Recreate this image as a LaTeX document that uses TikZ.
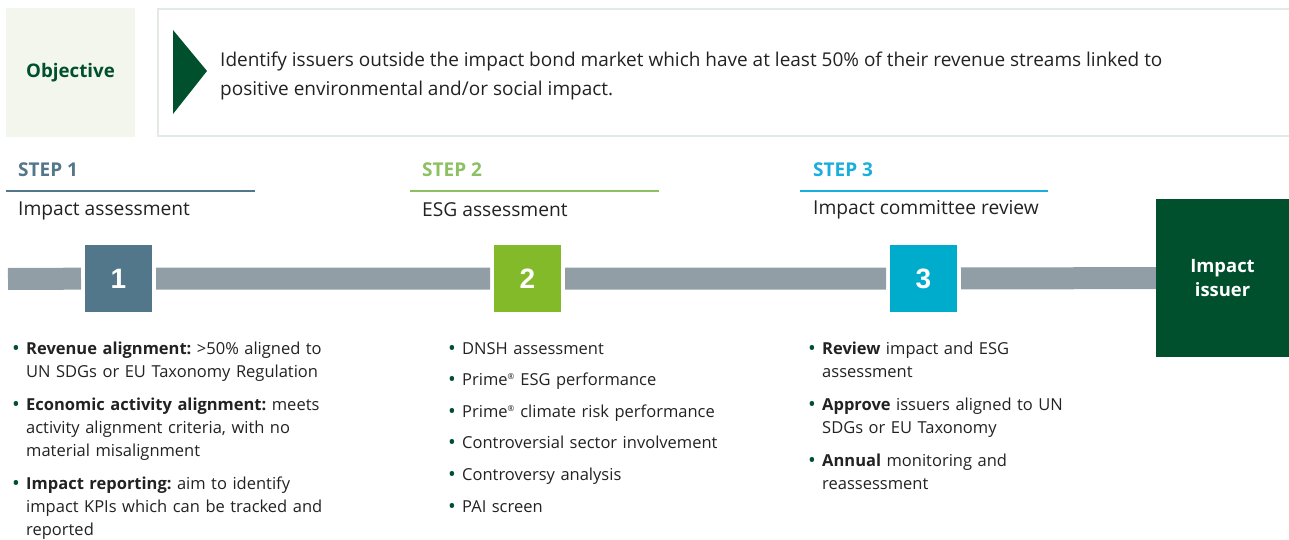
\documentclass[tikz,border=0pt]{standalone}
\usepackage{fontspec}
\setmainfont{Open Sans}
\newfontfamily\numfont{Liberation Sans}
\usetikzlibrary{positioning}

\definecolor{objfill}{HTML}{F3F6EC}
\definecolor{objline}{HTML}{E3EAE3}
\definecolor{darkgreen}{HTML}{00502E}
\definecolor{textgray}{HTML}{222222}
\definecolor{bargray}{HTML}{919EA5}
\definecolor{slate}{HTML}{52768A}
\definecolor{lime}{HTML}{82BA2A}
\definecolor{limetext}{HTML}{8CC063}
\definecolor{cyan}{HTML}{00ACCB}
\definecolor{cyantext}{HTML}{1AAEDC}

\tikzset{
  stepbox/.style={minimum width=67pt, minimum height=67pt, inner sep=0pt, outer sep=4pt,
    text=white, font=\numfont\bfseries\fontsize{28}{28}\selectfont},
  bar/.style={line width=22pt, draw=bargray},
  steptitle/.style={anchor=west, inner sep=0pt, font=\bfseries\fontsize{19}{19}\selectfont},
  stepname/.style={anchor=west, inner sep=0pt, text=textgray, font=\fontsize{19.2}{19.2}\selectfont},
  bullets/.style={anchor=north west, inner sep=0pt, text width=360pt, align=left,
    text=textgray, font=\frenchspacing\fontsize{16.5}{23}\selectfont},
}
\newcommand{\bul}{\hangindent=14pt\hangafter=1\noindent\makebox[14pt][l]{\textcolor{darkgreen}{\raisebox{-0.1ex}{\scalebox{1.25}{•}}}}}
\newcommand{\gap}{\par\vspace{10pt}}
\newcommand{\reg}{\textsuperscript{\scalebox{0.7}{®}}}

\begin{document}
\begin{tikzpicture}[x=1pt,y=-1pt]
  \useasboundingbox (0,0) rectangle (1289,540);

  % objective
  \node[fill=objfill, minimum width=129pt, minimum height=129pt, inner sep=0pt,
    text=darkgreen, font=\bfseries\fontsize{18.7}{18.7}\selectfont] (obj) at (70.5,72.5) {Objective};
  \draw[objline, line width=2pt] (1300,9) -- (158,9) -- (158,136) -- (1300,136);
  \fill[darkgreen] (173,30) -- (207,71) -- (173,114) -- cycle;
  \node[anchor=west, inner sep=0pt, align=left, text=textgray,
    font=\fontsize{19}{28.5}\selectfont] (objtext) at (220,76)
    {Identify issuers outside the impact bond market which have at least 50\% of their revenue streams linked to\\
     positive environmental and/or social impact.};

  % steps
  \node[steptitle, text=slate] (t1) at (18,170) {STEP 1};
  \node[steptitle, text=limetext] (t2) at (422,170) {STEP 2};
  \node[steptitle, text=cyantext] (t3) at (813,170) {STEP 3};
  \draw[slate, line width=2pt] (6,191) -- (255,191);
  \draw[limetext, line width=2pt] (410,191) -- (659,191);
  \draw[cyantext, line width=2pt] (800,191) -- (1048,191);
  \node[stepname] (n1) at (18,211) {Impact assessment};
  \node[stepname] (n2) at (422,210) {ESG assessment};
  \node[stepname] (n3) at (813,210) {Impact committee review};

  % bar
  \coordinate (start) at (8,279);
  \node[stepbox, fill=slate] (s1) at (118.5,278.5) {1};
  \node[stepbox, fill=lime] (s2) at (527.5,278.5) {2};
  \node[stepbox, fill=cyan] (s3) at (923.5,278.5) {3};
  \node[fill=darkgreen, minimum width=133pt, minimum height=158pt, inner sep=0pt, align=center,
    text=white, font=\bfseries\fontsize{18.4}{24}\selectfont] (issuer) at (1222.5,278) {Impact\\issuer};
  \draw[bar] (start) -- (s1) (s1) -- (s2) (s2) -- (s3) (s3) -- (issuer);

  % bullets
  \node[bullets] (b1) at (12,342) {\bul\textbf{Revenue alignment:} >50\% aligned to\newline UN SDGs or EU Taxonomy Regulation
    \gap\bul\textbf{Economic activity alignment:} meets\newline activity alignment criteria, with no\newline material misalignment
    \gap\bul\textbf{Impact reporting:} aim to identify\newline impact KPIs which can be tracked and\newline reported\par};
  \node[bullets, font=\fontsize{16.5}{31.6}\selectfont] (b2) at (448,342) {\bul DNSH assessment
    \par\bul Prime\reg{} ESG performance
    \par\bul Prime\reg{} climate risk performance
    \par\bul Controversial sector involvement
    \par\bul Controversy analysis
    \par\bul PAI screen\par};
  \node[bullets] (b3) at (808,342) {\bul\textbf{Review} impact and ESG\newline assessment
    \gap\bul\textbf{Approve} issuers aligned to UN\newline SDGs or EU Taxonomy
    \gap\bul\textbf{Annual} monitoring and\newline reassessment\par};
\end{tikzpicture}
\end{document}
